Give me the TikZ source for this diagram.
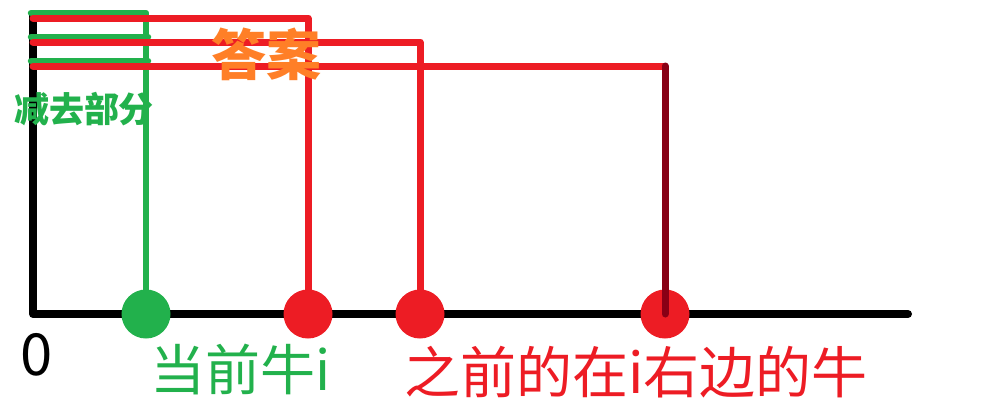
\documentclass[tikz,border=0pt]{standalone}
\usepackage{fontspec}
\setmainfont{Noto Sans CJK SC}
\usetikzlibrary{positioning}
\definecolor{pgreen}{HTML}{22B14C}
\definecolor{pred}{HTML}{ED1C24}
\definecolor{pdark}{HTML}{880015}
\definecolor{porange}{HTML}{FF7F27}

\begin{document}
\begin{tikzpicture}[x=1pt,y=-1pt,line cap=round,line join=round]
        \tikzstyle{axis}=[line width=8pt,draw=black]
        \tikzstyle{gline}=[line width=6.5pt,draw=pgreen]
        \tikzstyle{rline}=[line width=7pt,draw=pred]
        \tikzstyle{dline}=[line width=7pt,draw=pdark]
        \tikzstyle{cow}=[circle,inner sep=0pt,minimum size=49pt]
        \tikzstyle{word}=[inner sep=0pt]

        \useasboundingbox (0,0) rectangle (999,402);

        \coordinate (top) at (33,15);
        \coordinate (o) at (33,314);
        \coordinate (end) at (908,314);
        \draw[axis] (top) -- (o) -- (end); %axis

        \node [cow,fill=pgreen] (c) at (146,314) {}; %current cow
        \node [cow,fill=pred] (r1) at (308,314) {};
        \node [cow,fill=pred] (r2) at (420,314) {};
        \node [cow,fill=pred] (r3) at (665,314) {};

        \coordinate (g1) at (31,13);
        \coordinate (g2) at (31,37);
        \coordinate (g3) at (31,61);
        \draw[gline] (g1) -| (c.center); %cut part
        \draw[gline] (g2) -- ([xshift=2pt]g2 -| c);
        \draw[gline] (g3) -- ([xshift=2pt]g3 -| c);

        \coordinate (a1) at (33,18);
        \coordinate (a2) at (33,42);
        \coordinate (a3) at (33,66);
        \draw[rline] (a1) -| (r1.center); %answer
        \draw[rline] (a2) -| (r2.center);
        \draw[rline] (a3) -- (a3 -| r3);
        \draw[dline] (a3 -| r3) -- (r3.center);

        \node [word,text=pgreen,font=\bfseries\fontsize{35}{35}\selectfont] (cut) at (84,109) {减去部分};
        \node [word,text=porange,font=\bfseries\fontsize{55}{55}\selectfont] (ans) at (266,54) {答案};
        \node [word,font=\fontsize{58}{58}\selectfont] (zero) at (37,355) {0};
        \node [word,text=pgreen,font=\fontsize{55}{55}\selectfont,anchor=west] (cur) at (150,369) {当前牛i};
        \node [word,text=pred,font=\fontsize{56}{56}\selectfont,anchor=west] (prev) at (404,372) {之前的在i右边的牛};
    \end{tikzpicture}
\end{document}
